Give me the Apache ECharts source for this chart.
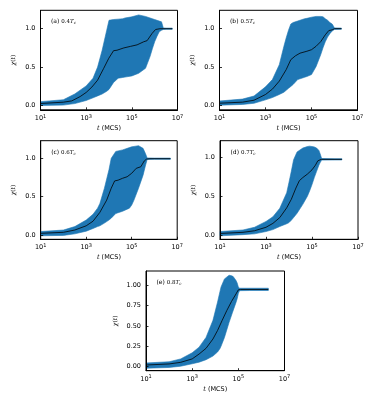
<!DOCTYPE html>
<html><head><meta charset="utf-8">
<script src="https://cdn.jsdelivr.net/npm/echarts@6/dist/echarts.min.js"></script>
<style>html,body{margin:0;padding:0;background:#fff}#c{width:374px;height:402px}</style>
</head><body><div id="c"></div>
<script>
// ---- data (x stored as log10 of t in MCS) ----
const panelLetters = ['a','b','c','d','e'];
const panelTemps = ['0.4','0.5','0.6','0.7','0.8'];
const xTickValues = [1e1, 1e3, 1e5, 1e7];

const aBandLogT = [1,2,2.5,3,3.3,3.5,3.7,3.9,4.0,4.2,4.4,4.6,4.7,5.0,5.3,5.6,5.8,5.9,6.0,6.1,6.2,6.3,6.38,6.5,6.77];
const aBandUpper = [0.05,0.075,0.15,0.255,0.355,0.5,0.72,0.98,1.11,1.12,1.125,1.13,1.14,1.155,1.18,1.16,1.14,1.13,1.12,1.11,1.10,1.09,1.01,1.008,1.008];
const aBandLower = [0.0,0.005,0.025,0.065,0.1,0.125,0.15,0.185,0.21,0.3,0.355,0.365,0.37,0.385,0.42,0.485,0.64,0.74,0.83,0.9,0.96,0.98,0.99,0.992,0.992];
const aLineLogT = [1,2,2.37,2.74,3,3.25,3.5,3.77,3.99,4.2,4.35,4.65,4.94,5.23,5.52,5.67,5.89,6.04,6.23,6.77];
const aLineChi = [0.026,0.043,0.06,0.117,0.17,0.24,0.33,0.485,0.615,0.714,0.72,0.75,0.77,0.79,0.83,0.845,0.94,0.99,1.0,1.0];

const bBandLogT = [1,2,2.5,3,3.3,3.6,3.8,3.9,4.0,4.1,4.2,4.4,4.7,4.8,5.0,5.2,5.4,5.5,5.6,5.7,5.8,5.9,6.0,6.3];
const bBandUpper = [0.055,0.08,0.12,0.24,0.335,0.53,0.77,0.88,0.98,1.06,1.08,1.1,1.13,1.135,1.15,1.16,1.16,1.155,1.13,1.11,1.08,1.06,1.01,1.008];
const bBandLower = [0.0,0.01,0.025,0.07,0.1,0.14,0.17,0.195,0.22,0.245,0.27,0.335,0.365,0.375,0.4,0.505,0.66,0.75,0.83,0.89,0.935,0.97,0.99,0.992];
const bLineLogT = [1,2,2.5,3,3.3,3.6,3.9,4.1,4.3,4.5,4.8,5.0,5.2,5.4,5.6,5.75,5.9,6.0,6.3];
const bLineChi = [0.026,0.04,0.065,0.14,0.21,0.315,0.465,0.595,0.645,0.68,0.705,0.725,0.77,0.83,0.92,0.975,0.985,1.0,1.0];

const cBandLogT = [1,2,2.5,3,3.3,3.5,3.6,3.8,4.0,4.1,4.3,4.6,4.9,5.0,5.1,5.3,5.5,5.6,5.68,6.0,6.7];
const cBandUpper = [0.045,0.065,0.11,0.195,0.27,0.35,0.41,0.61,0.85,1.0,1.09,1.11,1.14,1.15,1.155,1.165,1.13,1.065,1.005,1.003,1.003];
const cBandLower = [-0.01,-0.005,0.015,0.05,0.085,0.11,0.12,0.155,0.195,0.22,0.28,0.31,0.35,0.39,0.455,0.61,0.78,0.9,0.985,0.987,0.987];
const cLineLogT = [1,2,2.5,3,3.3,3.6,3.9,4.1,4.25,4.4,4.6,4.8,5.0,5.2,5.4,5.55,5.65,5.8,6.7];
const cLineChi = [0.022,0.035,0.065,0.12,0.18,0.295,0.455,0.61,0.705,0.715,0.74,0.76,0.805,0.87,0.89,0.965,0.99,0.995,0.995];

const dBandLogT = [1,2,2.5,3,3.3,3.6,3.9,4.0,4.1,4.2,4.35,4.6,4.8,4.9,5.0,5.1,5.2,5.3,5.35,5.42,6.0,6.3];
const dBandUpper = [0.045,0.065,0.1,0.175,0.235,0.345,0.545,0.68,0.82,0.97,1.07,1.12,1.14,1.145,1.14,1.135,1.12,1.09,1.05,0.985,0.983,0.983];
const dBandLower = [-0.01,0.005,0.015,0.045,0.07,0.11,0.145,0.16,0.19,0.225,0.28,0.395,0.5,0.57,0.65,0.74,0.82,0.9,0.93,0.965,0.967,0.967];
const dLineLogT = [1,2,2.5,3,3.3,3.6,3.9,4.1,4.3,4.45,4.6,4.8,5.0,5.15,5.25,5.4,6.3];
const dLineChi = [0.02,0.035,0.055,0.1,0.15,0.225,0.35,0.46,0.605,0.7,0.74,0.785,0.84,0.9,0.955,0.975,0.975];

const eBandLogT = [1,2,2.5,3,3.3,3.6,3.9,4.1,4.2,4.25,4.4,4.6,4.75,4.8,4.9,4.95,5.0,5.05,5.5,6.3];
const eBandUpper = [0.045,0.06,0.095,0.17,0.24,0.36,0.57,0.795,0.92,0.98,1.08,1.125,1.115,1.1,1.06,1.03,0.98,0.965,0.965,0.965];
const eBandLower = [-0.02,-0.01,0.005,0.035,0.055,0.085,0.13,0.18,0.22,0.25,0.36,0.545,0.67,0.71,0.79,0.835,0.9,0.935,0.937,0.937];
const eLineLogT = [1,2,2.5,3,3.3,3.6,3.9,4.1,4.3,4.5,4.7,4.9,5.0,5.1,6.3];
const eLineChi = [0.02,0.033,0.053,0.095,0.155,0.225,0.34,0.445,0.57,0.69,0.8,0.895,0.945,0.95,0.95];

const yTicksCoarse = [0, 0.5, 1.0];
const yTicksFine = [0, 0.25, 0.5, 0.75, 1.0];

// ---- layout ----
const grids = [
  {left: 40.5, top: 10.3, width: 137, height: 99.5},
  {left: 219.5, top: 10.3, width: 138, height: 99.5},
  {left: 40.7, top: 140.7, width: 136.5, height: 98.6},
  {left: 220, top: 140.7, width: 138, height: 98.6},
  {left: 146, top: 271, width: 138.5, height: 99.7}
];
const yRanges = [[-0.056, 1.24], [-0.06, 1.24], [-0.056, 1.23], [-0.055, 1.215], [-0.05, 1.177]];
const bands = [
  [aBandLogT, aBandUpper, aBandLower],
  [bBandLogT, bBandUpper, bBandLower],
  [cBandLogT, cBandUpper, cBandLower],
  [dBandLogT, dBandUpper, dBandLower],
  [eBandLogT, eBandUpper, eBandLower]
];
const lines = [
  [aLineLogT, aLineChi], [bLineLogT, bLineChi], [cLineLogT, cLineChi],
  [dLineLogT, dLineChi], [eLineLogT, eLineChi]
];

const SANS = 'DejaVu Sans';
const SERIF = 'DejaVu Serif';
const FS = 6.5;

const chart = echarts.init(document.getElementById('c'), null, {renderer: 'canvas'});
const option = {
  animation: false,
  backgroundColor: '#fff',
  grid: grids.map(g => Object.assign({containLabel: false, show: true, borderColor: '#000', borderWidth: 1, backgroundColor: 'transparent'}, g)),
  title: grids.map((g, i) => ({
    left: g.left + 5.5, top: g.top + 3,
    text: '{n|(' + panelLetters[i] + ') }{m|' + panelTemps[i] + '}{t|T}{s|c}',
    textStyle: {
      fontWeight: 'normal',
      rich: {
        n: {fontFamily: SANS, fontSize: 6, fontWeight: 'normal', color: '#000'},
        m: {fontFamily: SERIF, fontSize: 5.5, fontWeight: 'normal', color: '#000'},
        t: {fontFamily: SERIF, fontStyle: 'italic', fontWeight: 'normal', fontSize: 5.5, color: '#000'},
        s: {fontFamily: SERIF, fontStyle: 'italic', fontWeight: 'normal', fontSize: 4, color: '#000', padding: [3, 0, 0, 0]}
      }
    }
  })),
  xAxis: grids.map((g, i) => ({
    gridIndex: i, type: 'log', logBase: 10, min: 10, max: 1e7, z: 10,
    name: '{i|t} (MCS)', nameLocation: 'middle', nameGap: 15,
    nameTextStyle: {
      fontFamily: SANS, fontSize: FS, color: '#000',
      rich: {i: {fontFamily: SERIF, fontStyle: 'italic', fontSize: FS, color: '#000'}}
    },
    axisLine: {show: true, onZero: false, lineStyle: {color: '#000', width: 1}},
    axisTick: {show: true, inside: true, length: 2.5, customValues: xTickValues, lineStyle: {color: '#000', width: 0.8}},
    axisLabel: {
      show: true, margin: 4, customValues: xTickValues, showMinLabel: true, showMaxLabel: true,
      formatter: v => '{b|10}{s|' + Math.round(Math.log10(v)) + '}',
      fontFamily: SANS, fontSize: FS, color: '#000',
      rich: {
        b: {fontFamily: SANS, fontSize: FS, color: '#000'},
        s: {fontFamily: SANS, fontSize: 5, color: '#000', padding: [0, 0, 4, 0]}
      }
    },
    splitLine: {show: false}, minorTick: {show: false}, minorSplitLine: {show: false}
  })),
  yAxis: grids.map((g, i) => {
    const ticks = i === 4 ? yTicksFine : yTicksCoarse;
    const dec = i === 4 ? 2 : 1;
    return {
      gridIndex: i, type: 'value', min: yRanges[i][0], max: yRanges[i][1], z: 10,
      name: '{c|χ}({t|t})', nameLocation: 'middle', nameGap: i === 4 ? 28 : 24, nameRotate: 90,
      nameTextStyle: {
        fontFamily: SERIF, fontSize: 6, color: '#000',
        rich: {
          c: {fontFamily: SERIF, fontStyle: 'italic', fontSize: 6, color: '#000'},
          t: {fontFamily: SERIF, fontStyle: 'italic', fontSize: 6, color: '#000'}
        }
      },
      axisLine: {show: true, onZero: false, lineStyle: {color: '#000', width: 1}},
      axisTick: {show: true, inside: true, length: 2.5, customValues: ticks, lineStyle: {color: '#000', width: 0.8}},
      axisLabel: {show: true, margin: 5, customValues: ticks, formatter: v => v.toFixed(dec),
        fontFamily: SANS, fontSize: FS, color: '#000'},
      splitLine: {show: false}
    };
  }),
  series: []
};

// band polygons (custom series, coordinates through the axis scales)
bands.forEach((b, i) => {
  const [lt, up, lo] = b;
  const data = lt.map((e, k) => [Math.pow(10, e), lo[k], up[k]]);
  option.series.push({
    type: 'custom', xAxisIndex: i, yAxisIndex: i, z: 2, silent: true,
    encode: {x: 0, y: [1, 2]},
    data: data,
    renderItem: (params, api) => {
      if (params.dataIndex !== 0) return null;
      const pts = [];
      data.forEach(d => pts.push(api.coord([d[0], d[2]])));
      for (let k = data.length - 1; k >= 0; k--) pts.push(api.coord([data[k][0], data[k][1]]));
      return {type: 'polygon', shape: {points: pts}, style: {fill: '#1f77b4', stroke: '#1f77b4', lineWidth: 0.6}};
    }
  });
});
lines.forEach((l, i) => {
  const [lt, chi] = l;
  option.series.push({
    type: 'line', xAxisIndex: i, yAxisIndex: i, z: 5, silent: true,
    showSymbol: false, symbol: 'none',
    data: lt.map((e, k) => [Math.pow(10, e), chi[k]]),
    lineStyle: {color: '#000', width: 0.8}
  });
});
chart.setOption(option);
</script></body></html>
